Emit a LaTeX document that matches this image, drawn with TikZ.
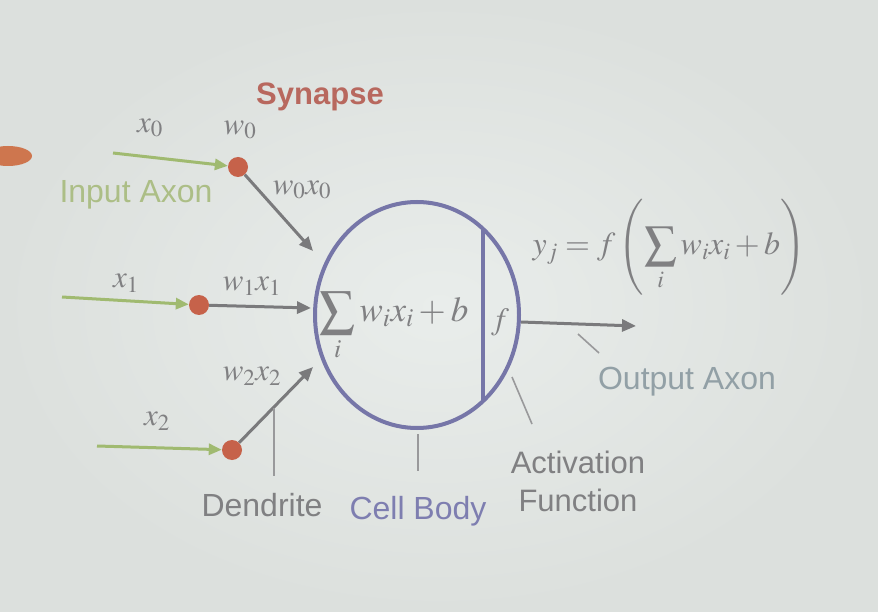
\documentclass[tikz,border=0pt]{standalone}
\usepackage{mathptmx}
\usepackage[no-math]{fontspec}
\setmainfont{Liberation Sans}
\usetikzlibrary{arrows.meta,shapes.geometric}
\definecolor{bgc}{RGB}{227,231,228}
\definecolor{bgin}{RGB}{233,237,235}
\definecolor{bgout}{RGB}{220,224,221}
\definecolor{axgreen}{RGB}{160,186,112}
\definecolor{txgreen}{RGB}{172,190,134}
\definecolor{dotc}{RGB}{198,98,74}
\definecolor{arrgray}{RGB}{122,122,124}
\definecolor{cellc}{RGB}{118,118,168}
\definecolor{mathc}{RGB}{128,128,130}
\definecolor{sync}{RGB}{184,104,94}
\definecolor{outc}{RGB}{146,160,166}
\definecolor{lblgray}{RGB}{128,128,130}
\definecolor{cellbody}{RGB}{126,126,176}
\definecolor{blobc}{RGB}{206,118,78}
\tikzset{
  lbl/.style={font=\fontsize{32}{36}\selectfont, inner sep=0pt},
  mlbl/.style={text=mathc, font=\fontsize{31}{34}\selectfont, inner sep=0pt},
  synapsedot/.style={circle, fill=dotc, minimum size=20pt, inner sep=0pt},
  inarrow/.style={draw=axgreen, line width=3pt, -{Triangle[length=13pt,width=11pt]}},
  grayarrow/.style={draw=arrgray, line width=3pt, -{Triangle[length=14pt,width=12pt]}},
  pointer/.style={draw=lblgray!80, line width=1.6pt},
}
\begin{document}
\begin{tikzpicture}[x=1pt,y=-1pt]
\fill[bgc] (0,0) rectangle (878,612);
\shade[inner color=bgin, outer color=bgout] (0,0) rectangle (878,612);
\useasboundingbox (0,0) rectangle (878,612);
% pointer blob at left edge
\fill[blobc] (8,156) ellipse [x radius=24pt, y radius=10pt];

% title
\node[lbl, text=sync, font=\bfseries\fontsize{31}{36}\selectfont] (syn) at (320,97) {Synapse};

% synapse dots
\node[synapsedot] (d0) at (238,167) {};
\node[synapsedot] (d1) at (199,305) {};
\node[synapsedot] (d2) at (232,450) {};

% input axon starts
\coordinate (s0) at (113,153);
\coordinate (s1) at (62,297);
\coordinate (s2) at (97,446);

% cell body
\node[ellipse, draw=cellc, line width=4pt, minimum width=204pt, minimum height=226pt, inner sep=0pt] (cell) at (417,315) {};
\draw[draw=cellc, line width=4pt] (483,229) -- (483,402);
\node[text=mathc, inner sep=0pt, font=\fontsize{35}{38}\selectfont] (sum) at (394,326) {$\displaystyle\sum_i w_i x_i + b$};
\node[text=mathc, inner sep=0pt, font=\fontsize{31}{34}\selectfont] (fn) at (500,322) {$f$};

% arrow end points near the cell
\coordinate (e0) at (313,251);
\coordinate (e1) at (311,308);
\coordinate (e2) at (313,367);
\coordinate (out) at (636,326);

% inputs
\draw[inarrow] (s0) -- (d0);
\draw[inarrow] (s1) -- (d1);
\draw[inarrow] (s2) -- (d2);
\draw[grayarrow] (d0) -- (e0);
\draw[grayarrow] (d1) -- (e1);
\draw[grayarrow] (d2) -- (e2);
\draw[grayarrow] ([yshift=-7pt]cell.east) -- (out);

% math labels
\node[mlbl] (lx0) at (150,128) {$x_0$};
\node[mlbl] (lw0) at (240,130) {$w_0$};
\node[mlbl] (lw0x0) at (302,190) {$w_0x_0$};
\node[mlbl] (lx1) at (126,283) {$x_1$};
\node[mlbl] (lw1x1) at (252,286) {$w_1x_1$};
\node[mlbl] (lx2) at (157,421) {$x_2$};
\node[mlbl] (lw2x2) at (252,376) {$w_2x_2$};

% formula
\node[text=mathc, inner sep=0pt, font=\fontsize{32}{35}\selectfont] (formula) at (669,247) {$y_j = f\left(\displaystyle\sum_i w_i x_i + b\right)$};

% text labels
\node[lbl, text=txgreen] (inax) at (136,195) {Input Axon};
\node[lbl, text=outc] (outax) at (687,382) {Output Axon};
\node[lbl, text=lblgray] (dend) at (262,505) {Dendrite};
\node[lbl, text=cellbody] (cb) at (418,511) {Cell Body};
\node[lbl, text=lblgray, align=center, font=\fontsize{31}{38}\selectfont] (act) at (578,481) {Activation\\Function};

% pointer lines
\coordinate (p1a) at (274,408);
\coordinate (p1b) at (274,476);
\coordinate (p2a) at (418,434);
\coordinate (p2b) at (418,471);
\coordinate (p3a) at (512,377);
\coordinate (p3b) at (532,424);
\coordinate (p4a) at (578,334);
\coordinate (p4b) at (599,353);
\draw[pointer] (p1a) -- (p1b);
\draw[pointer] (p2a) -- (p2b);
\draw[pointer] (p3a) -- (p3b);
\draw[pointer] (p4a) -- (p4b);
\end{tikzpicture}
\end{document}
